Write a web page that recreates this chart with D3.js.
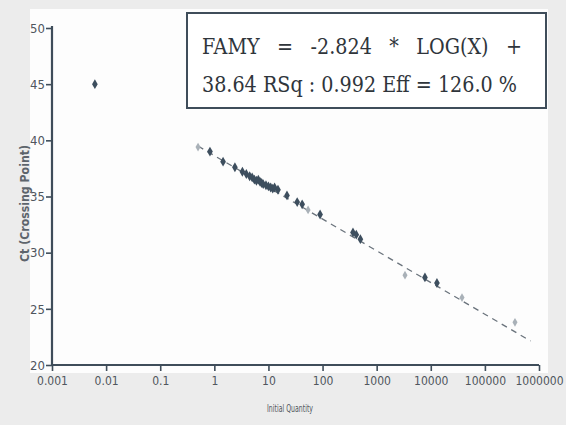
<!DOCTYPE html>
<html>
<head>
<meta charset="utf-8">
<script src="https://cdn.jsdelivr.net/npm/d3@7/dist/d3.min.js"></script>
<style>
  html, body { margin: 0; padding: 0; background: #ececec; }
  svg { display: block; }
  .tick text { font-family: "DejaVu Sans Condensed", "Liberation Sans Narrow", sans-serif; font-stretch: condensed; fill: #50565d; }
</style>
</head>
<body>
<svg id="chart" width="566" height="425"></svg>
<script>
// Standard-curve data: initial quantity vs. crossing point
const quantities   = [0.0062, 0.83, 1.45, 2.4, 3.3, 3.9, 4.5, 5.0, 5.5, 6.0, 6.5, 7.0, 7.5, 8.0, 9.0, 10, 11, 12, 13, 15, 22, 34, 42, 90, 365, 420, 500, 7800, 13000];
const crossingPts  = [45.0, 39.0, 38.1, 37.6, 37.2, 37.0, 36.8, 36.7, 36.5, 36.4, 36.5, 36.3, 36.2, 36.1, 36.0, 35.9, 35.8, 35.7, 35.8, 35.6, 35.1, 34.5, 34.3, 33.4, 31.8, 31.6, 31.2, 27.8, 27.3];
// weakly printed replicates
const faintQuantities  = [0.5, 54, 3340, 37800, 360000];
const faintCrossingPts = [39.4, 33.8, 28.0, 26.0, 23.8];

// fit: Ct = slope * log10(Q) + intercept
const slope = -2.824;
const intercept = 38.64;
const fitRange = [0.5, 700000];

const xTickValues = [0.001, 0.01, 0.1, 1, 10, 100, 1000, 10000, 100000, 1000000];
const xTickLabels = ["0.001", "0.01", "0.1", "1", "10", "100", "1000", "10000", "100000", "1000000"];
const yTickValues = [20, 25, 30, 35, 40, 45, 50];
const yMinorTicks = [22.5, 27.5, 32.5, 37.5, 42.5, 47.5];

const eqLine1 = ["FAMY", "=", "-2.824", "*", "LOG(X)", "+"];
const eqLine2 = "38.64 RSq : 0.992 Eff = 126.0 %";

const xTitle = "Initial Quantity";
const yTitle = "Ct (Crossing Point)";

const svg = d3.select("#chart");
const axisColor = "#3f4d5a";
const markColor = "#3d4e5e";
const labelFont = "'DejaVu Sans Condensed', 'Liberation Sans Narrow', sans-serif";

// white paper panel
svg.append("rect").attr("x", 30).attr("y", 9).attr("width", 518).attr("height", 364).attr("fill", "#fdfdfd");

const x = d3.scaleLog().domain([0.001, 1000000]).range([52, 539]);
const y = d3.scaleLinear().domain([20, 50]).range([365, 28]);

// minor log ticks
const xMinor = [];
for (let e = -3; e < 6; e++) for (let m = 2; m <= 9; m++) xMinor.push(m * Math.pow(10, e));

const gx = svg.append("g").attr("transform", `translate(0,${y(20)})`);
gx.call(d3.axisBottom(x).tickValues(xMinor).tickSize(4).tickFormat(""));
gx.call(d3.axisBottom(x).tickValues(xTickValues).tickSize(6)
  .tickFormat((d, i) => xTickLabels[i]));
gx.selectAll(".domain").attr("stroke", axisColor).attr("stroke-width", 2.2).attr("d", `M${x(0.001)},0H${x(1000000)}`);
gx.selectAll("line").attr("stroke", axisColor).attr("stroke-width", 1.6);
gx.selectAll("text").attr("font-size", 12).attr("dy", "0.95em");

const gy = svg.append("g").attr("transform", `translate(${x(0.001)},0)`);
gy.call(d3.axisLeft(y).tickValues(yMinorTicks).tickSize(3).tickFormat(""));
gy.call(d3.axisLeft(y).tickValues(yTickValues).tickSize(6).tickFormat(d3.format("d")));
gy.selectAll(".domain").attr("stroke", axisColor).attr("stroke-width", 2.2).attr("d", `M0,${y(20)}V${y(50) - 2}`);
gy.selectAll("line").attr("stroke", axisColor).attr("stroke-width", 1.6);
gy.selectAll("text").attr("font-size", 13).attr("x", -7);

// axis titles
svg.append("text").attr("x", 267).attr("y", 412)
  .attr("font-family", labelFont).attr("font-size", 10).attr("fill", "#50565d")
  .attr("textLength", 46).attr("lengthAdjust", "spacingAndGlyphs").text(xTitle);
svg.append("text").attr("transform", "translate(29,262) rotate(-90)")
  .attr("font-family", labelFont).attr("font-size", 12).attr("font-weight", "bold").attr("fill", "#5d646b")
  .attr("textLength", 117).attr("lengthAdjust", "spacingAndGlyphs").text(yTitle);

// regression line (dashed)
const fitLine = d3.line().x(d => x(d)).y(d => y(slope * Math.log10(d) + intercept));
svg.append("path").datum(fitRange).attr("d", fitLine)
  .attr("fill", "none").attr("stroke", "#6a737c").attr("stroke-width", 1.3)
  .attr("stroke-dasharray", "6,5");

// points
const sym = d3.symbol().type(d3.symbolDiamond).size(28);
svg.append("g").selectAll("path.pt").data(d3.zip(quantities, crossingPts)).join("path")
  .attr("class", "pt").attr("d", sym)
  .attr("transform", d => `translate(${x(d[0])},${y(d[1])})`)
  .attr("fill", markColor);
svg.append("g").selectAll("path.fp").data(d3.zip(faintQuantities, faintCrossingPts)).join("path")
  .attr("class", "fp").attr("d", d3.symbol().type(d3.symbolDiamond).size(22))
  .attr("transform", d => `translate(${x(d[0])},${y(d[1])})`)
  .attr("fill", "#a9b1b8");

// equation box
svg.append("rect").attr("x", 187).attr("y", 13).attr("width", 359).attr("height", 95)
  .attr("fill", "#ffffff").attr("stroke", axisColor).attr("stroke-width", 2);

const eqFont = "'DejaVu Serif', 'Liberation Serif', serif";
const eqSize = 22;
const left = 202, right2 = 517, right1 = 522;

// line 2: fitted to its width
const t2 = svg.append("text").attr("x", left).attr("y", 92)
  .attr("font-family", eqFont).attr("font-size", eqSize).attr("fill", "#2f353b")
  .text(eqLine2);
const natural2 = t2.node().getComputedTextLength();
const k = (right2 - left) / natural2;
t2.attr("textLength", right2 - left).attr("lengthAdjust", "spacingAndGlyphs");

// line 1: tokens justified across the box
const toks = eqLine1.map(s => {
  const t = svg.append("text").attr("y", 54).attr("font-family", eqFont)
    .attr("font-size", eqSize).attr("fill", "#2f353b").text(s);
  const w = t.node().getComputedTextLength() * k;
  t.attr("textLength", w).attr("lengthAdjust", "spacingAndGlyphs");
  return { t, w };
});
const totalW = d3.sum(toks, d => d.w);
const gap = (right1 - left - totalW) / (toks.length - 1);
let cx = left;
toks.forEach(d => { d.t.attr("x", cx); cx += d.w + gap; });
</script>
</body>
</html>
